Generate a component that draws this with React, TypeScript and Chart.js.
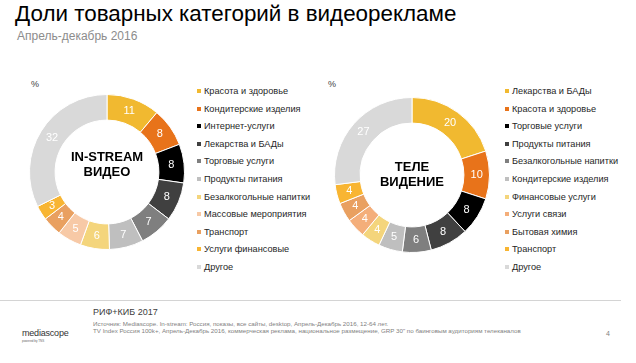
import React, { useEffect, useRef } from "react";
import { Chart, registerables } from "chart.js";

Chart.register(...registerables);

const FONT = "'Liberation Sans', Arial, sans-serif";

const instreamCategories = [
  "Красота и здоровье",
  "Кондитерские изделия",
  "Интернет-услуги",
  "Лекарства и БАДы",
  "Торговые услуги",
  "Продукты питания",
  "Безалкогольные напитки",
  "Массовые мероприятия",
  "Транспорт",
  "Услуги финансовые",
  "Другое",
];
const instreamValues = [11, 8, 8, 8, 7, 7, 6, 5, 4, 3, 32];
const instreamColors = [
  "#F1B930", "#E8731A", "#000000", "#404040", "#7F7F7F", "#BFBFBF",
  "#F4D57C", "#F7C9A6", "#E9A060", "#F8B532", "#D9D9D9",
];

const tvCategories = [
  "Лекарства и БАДы",
  "Красота и здоровье",
  "Торговые услуги",
  "Продукты питания",
  "Безалкогольные напитки",
  "Кондитерские изделия",
  "Финансовые услуги",
  "Услуги связи",
  "Бытовая химия",
  "Транспорт",
  "Другое",
];
const tvValues = [20, 10, 8, 8, 6, 5, 4, 4, 4, 4, 27];
const tvColors = [
  "#F1B930", "#E8731A", "#000000", "#404040", "#7F7F7F", "#BFBFBF",
  "#F4D57C", "#F4AE7A", "#E9A060", "#F8B532", "#D9D9D9",
];

const valueLabels = {
  id: "valueLabels",
  afterDatasetsDraw(chart: any) {
    const ctx = chart.ctx;
    const meta = chart.getDatasetMeta(0);
    const data = chart.data.datasets[0].data;
    ctx.save();
    ctx.fillStyle = "#ffffff";
    ctx.font = `11px ${FONT}`;
    ctx.textAlign = "center";
    ctx.textBaseline = "middle";
    meta.data.forEach((arc: any, i: number) => {
      const p = arc.tooltipPosition();
      ctx.fillText(String(data[i]), p.x, p.y);
    });
    ctx.restore();
  },
};

function Donut(props: {
  values: number[];
  colors: string[];
  labels: string[];
  left: number;
  top: number;
  size: number;
}) {
  const ref = useRef<HTMLCanvasElement>(null);
  useEffect(() => {
    if (!ref.current) return;
    const chart = new Chart(ref.current, {
      type: "doughnut",
      data: {
        labels: props.labels,
        datasets: [
          {
            data: props.values,
            backgroundColor: props.colors,
            borderColor: "#ffffff",
            borderWidth: 1,
          },
        ],
      },
      options: {
        animation: false,
        responsive: false,
        cutout: "67%",
        layout: { padding: 0 },
        plugins: {
          legend: { display: false },
          tooltip: { enabled: false },
        },
      },
      plugins: [valueLabels],
    });
    return () => chart.destroy();
  }, []);
  return (
    <canvas
      ref={ref}
      width={props.size}
      height={props.size}
      style={{
        position: "absolute",
        left: props.left,
        top: props.top,
        width: props.size,
        height: props.size,
      }}
    />
  );
}

function Legend(props: { labels: string[]; colors: string[]; left: number; top: number }) {
  return (
    <div style={{ position: "absolute", left: props.left, top: props.top }}>
      {props.labels.map((l, i) => (
        <div
          key={l}
          style={{
            position: "absolute",
            left: 0,
            top: i * 17.6,
            height: 12,
            whiteSpace: "nowrap",
            display: "flex",
            alignItems: "center",
            fontSize: 9.2,
            color: "#262626",
          }}
        >
          <span
            style={{
              display: "inline-block",
              width: 4,
              height: 4,
              background: props.colors[i],
              marginRight: 3,
            }}
          />
          {l}
        </div>
      ))}
    </div>
  );
}

export default function App() {
  return (
    <div
      style={{
        position: "absolute",
        left: 0,
        top: 0,
        width: 636,
        height: 363,
        overflow: "hidden",
        background: "#ffffff",
        fontFamily: FONT,
      }}
    >
      <div style={{ position: "absolute", left: 15, top: 1, fontSize: 22.4, color: "#000", whiteSpace: "nowrap" }}>
        Доли товарных категорий в видеорекламе
      </div>
      <div style={{ position: "absolute", left: 17, top: 29, fontSize: 12, color: "#8c8c8c", whiteSpace: "nowrap" }}>
        Апрель-декабрь 2016
      </div>

      <div style={{ position: "absolute", left: 31, top: 79, fontSize: 9, color: "#404040" }}>%</div>
      <div style={{ position: "absolute", left: 328, top: 79, fontSize: 9, color: "#404040" }}>%</div>

      <Donut values={instreamValues} colors={instreamColors} labels={instreamCategories} left={29} top={94} size={156} />
      <div
        style={{
          position: "absolute",
          left: 47,
          top: 149,
          width: 120,
          textAlign: "center",
          fontSize: 13,
          fontWeight: "bold",
          lineHeight: "15px",
          color: "#000",
        }}
      >
        IN-STREAM
        <br />
        ВИДЕО
      </div>
      <Legend labels={instreamCategories} colors={instreamColors} left={197} top={85} />

      <Donut values={tvValues} colors={tvColors} labels={tvCategories} left={334} top={97} size={156} />
      <div
        style={{
          position: "absolute",
          left: 352,
          top: 159,
          width: 120,
          textAlign: "center",
          fontSize: 13,
          fontWeight: "bold",
          lineHeight: "15px",
          color: "#000",
        }}
      >
        ТЕЛЕ
        <br />
        ВИДЕНИЕ
      </div>
      <Legend labels={tvCategories} colors={tvColors} left={505} top={85} />

      <div style={{ position: "absolute", left: 0, top: 300, width: 621, height: 1, background: "#d4d4d4" }} />

      <div style={{ position: "absolute", left: 22, top: 322, whiteSpace: "nowrap" }}>
        <span style={{ fontSize: 9, color: "#333", letterSpacing: -0.2 }}>mediascope</span>
        <div style={{ fontSize: 3, color: "#666", marginTop: -1 }}>powered by TNS</div>
      </div>

      <div style={{ position: "absolute", left: 93, top: 307, fontSize: 9, color: "#404040", whiteSpace: "nowrap" }}>
        РИФ+КИБ 2017
      </div>
      <div
        style={{
          position: "absolute",
          left: 93,
          top: 321,
          fontSize: 6.2,
          lineHeight: "6.6px",
          color: "#7f7f7f",
          whiteSpace: "nowrap",
        }}
      >
        Источник: Mediascope. In-stream: Россия, показы, все сайты, desktop, Апрель-Декабрь 2016, 12-64 лет.
        <br />
        TV Index Россия 100k+, Апрель-Декабрь 2016, коммерческая реклама, национальное размещение, GRP 30" по баинговым аудиториям телеканалов
      </div>
      <div style={{ position: "absolute", left: 606, top: 330, fontSize: 7, color: "#7f7f7f" }}>4</div>
    </div>
  );
}
